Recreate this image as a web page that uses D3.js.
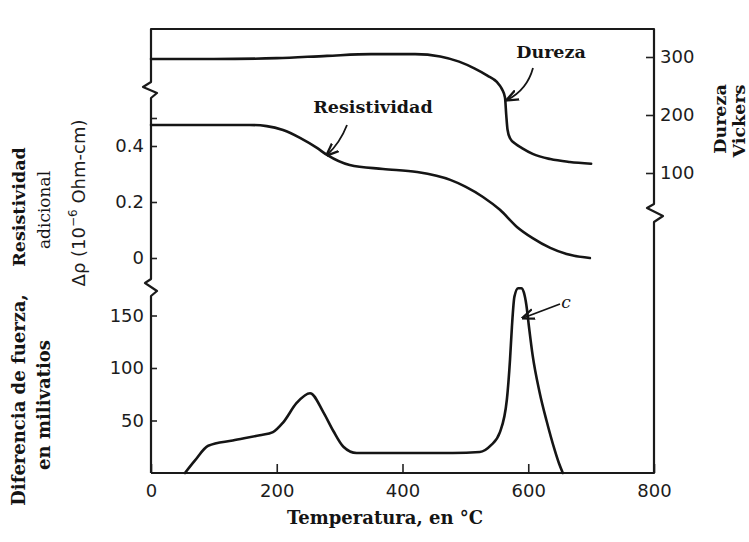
<!DOCTYPE html>
<html>
<head>
<meta charset="utf-8">
<script src="https://cdn.jsdelivr.net/npm/d3@7/dist/d3.min.js"></script>
<style>
  html, body { margin: 0; padding: 0; background: #fff; }
  svg { display: block; }
  .tick text { font-family: "DejaVu Sans", sans-serif; font-size: 18px; fill: #1c1c1c; }
  .title { font-family: "DejaVu Serif", serif; font-weight: bold; fill: #141414; }
</style>
</head>
<body>
<svg id="chart" width="749" height="542"></svg>
<script>
// Temperature axis
const tempTicks = [0, 200, 400, 600, 800];

// Vickers hardness (right axis, top panel)
const hardTemp = [0, 100, 200, 280, 350, 420, 460, 490, 515, 535, 550, 558, 563, 565, 567, 571, 580, 590, 607, 635, 666, 700];
const hardness = [296.5, 296.5, 298, 302, 305, 305, 301, 292, 280, 268, 257, 245, 230, 200, 175, 160, 150, 143, 133, 124, 119, 116];
const hardTicks = [100, 200, 300];

// Additional resistivity, 10^-6 ohm-cm (left axis, top panel)
const resTemp = [0, 100, 157, 184, 210, 237, 264, 280, 316, 369, 423, 476, 500, 528, 555, 582, 607, 635, 661, 698];
const resistivity = [0.475, 0.475, 0.475, 0.471, 0.457, 0.429, 0.393, 0.368, 0.332, 0.318, 0.307, 0.279, 0.255, 0.218, 0.172, 0.111, 0.071, 0.036, 0.014, 0.0];
const resTicks = [0, 0.2, 0.4];

// Power difference in millivatios (left axis, bottom panel), curve c
const diffTemp = [54, 70, 91, 130, 173, 194, 210, 232, 253, 274, 290, 306, 327, 400, 480, 523, 540, 555, 566, 571, 574, 578, 584, 589, 593, 597, 601, 607, 618, 629, 642, 649, 655];
const diffPower = [0, 12, 26, 31, 36, 39, 48, 67, 76, 58, 40, 25, 19, 19, 19, 20, 26, 39, 70, 108, 139, 168, 176, 176, 172, 160, 140, 112, 77, 50, 22, 9, 0];
const diffTicks = [50, 100, 150];

const svg = d3.select("#chart");

// Frame geometry
const fLeft = 151, fRight = 654, fTop = 29, fBottom = 473;

const x = d3.scaleLinear().domain([0, 800]).range([fLeft, fRight]);
const yHard = d3.scaleLinear().domain([100, 300]).range([173, 57]);
const yRes = d3.scaleLinear().domain([0, 0.4]).range([258, 146]);
const yDiff = d3.scaleLinear().domain([0, 150]).range([fBottom, 315.5]);

// Axes (ticks point inward; the frame is drawn separately with break marks)
const gx = svg.append("g").attr("transform", `translate(0,${fBottom})`)
  .call(d3.axisBottom(x).tickValues(tempTicks).tickSize(-9).tickPadding(11).tickFormat(d3.format("d")));
const gRes = svg.append("g").attr("transform", `translate(${fLeft},0)`)
  .call(d3.axisLeft(yRes).tickValues(resTicks.concat([0.5])).tickSize(-6).tickPadding(7)
    .tickFormat(d => d === 0 ? "0" : (d === 0.5 ? "" : d3.format(".1f")(d))));
const gDiff = svg.append("g").attr("transform", `translate(${fLeft},0)`)
  .call(d3.axisLeft(yDiff).tickValues(diffTicks).tickSize(-6).tickPadding(7).tickFormat(d3.format("d")));
const gHard = svg.append("g").attr("transform", `translate(${fRight},0)`)
  .call(d3.axisRight(yHard).tickValues(hardTicks).tickSize(-8).tickPadding(6).tickFormat(d3.format("d")));

[gx, gRes, gDiff, gHard].forEach(g => {
  g.select(".domain").remove();
  g.selectAll(".tick line").attr("stroke", "#222").attr("stroke-width", 1.6);
});

// Frame with axis-break zigzags on both vertical edges
svg.append("path")
  .attr("d",
    `M${fLeft},${fBottom} L${fLeft},296 L${fLeft + 6},291 L${fLeft - 6},283 L${fLeft},279 ` +
    `L${fLeft},98 L${fLeft + 6},93 L${fLeft - 8},87 L${fLeft},82 L${fLeft},${fTop} ` +
    `L${fRight},${fTop} L${fRight},204 L${fRight - 7},208 L${fRight + 9},216 L${fRight},222 ` +
    `L${fRight},${fBottom} L${fLeft},${fBottom}`)
  .attr("fill", "none").attr("stroke", "#1a1a1a").attr("stroke-width", 2.2).attr("stroke-linejoin", "round");

// Curves
const curveStyle = sel => sel.attr("fill", "none").attr("stroke", "#151515").attr("stroke-width", 2.6)
  .attr("stroke-linejoin", "round").attr("stroke-linecap", "round");

svg.append("path")
  .datum(d3.zip(hardTemp, hardness))
  .attr("d", d3.line().x(d => x(d[0])).y(d => yHard(d[1])).curve(d3.curveMonotoneX))
  .call(curveStyle);

svg.append("path")
  .datum(d3.zip(resTemp, resistivity))
  .attr("d", d3.line().x(d => x(d[0])).y(d => yRes(d[1])).curve(d3.curveMonotoneX))
  .call(curveStyle);

svg.append("path")
  .datum(d3.zip(diffTemp, diffPower))
  .attr("d", d3.line().x(d => x(d[0])).y(d => yDiff(d[1])).curve(d3.curveMonotoneX))
  .call(curveStyle);

// Arrowhead marker for the curve labels
svg.append("defs").append("marker")
  .attr("id", "arrow").attr("viewBox", "0 0 10 10").attr("refX", 9).attr("refY", 5)
  .attr("markerWidth", 7).attr("markerHeight", 7).attr("orient", "auto-start-reverse")
  .append("path").attr("d", "M0,1 L10,5 L0,9").attr("fill", "none").attr("stroke", "#151515").attr("stroke-width", 1.8);

const annoStyle = sel => sel.attr("fill", "none").attr("stroke", "#151515").attr("stroke-width", 1.8)
  .attr("marker-end", "url(#arrow)");

svg.append("path").attr("d", "M533,68 Q527,90 507,100").call(annoStyle);
svg.append("path").attr("d", "M347,125 Q340,143 327,155").call(annoStyle);
svg.append("path").attr("d", "M560,304 L523,318").call(annoStyle);

// Curve labels
svg.append("text").attr("class", "title").attr("x", 551).attr("y", 58).attr("text-anchor", "middle")
  .attr("font-size", 17.5).text("Dureza");
svg.append("text").attr("class", "title").attr("x", 373).attr("y", 113).attr("text-anchor", "middle")
  .attr("font-size", 17.5).text("Resistividad");
svg.append("text").attr("x", 566).attr("y", 308).attr("text-anchor", "middle")
  .attr("font-family", "DejaVu Serif, serif").attr("font-style", "italic").attr("font-size", 17).attr("fill", "#151515").text("c");

// Axis titles
svg.append("text").attr("class", "title").attr("x", 385).attr("y", 524).attr("text-anchor", "middle")
  .attr("font-size", 18).text("Temperatura, en °C");

function vtext(cx, cy, txt, size, cls, extra) {
  const t = svg.append("text").attr("transform", `translate(${cx},${cy}) rotate(-90)`)
    .attr("text-anchor", "middle").attr("dominant-baseline", "middle").attr("font-size", size);
  if (cls) t.attr("class", cls);
  if (extra) extra(t); else t.text(txt);
  return t;
}
vtext(20, 207, "Resistividad", 17.5, "title");
vtext(45, 210, "adicional", 17, "title").style("font-weight", "normal");
vtext(80, 203, null, 18, null, t => {
  t.attr("font-family", "DejaVu Sans, sans-serif").attr("fill", "#1c1c1c");
  t.append("tspan").text("Δρ (10");
  t.append("tspan").attr("font-size", 12).attr("dy", -7).text("−6");
  t.append("tspan").attr("dy", 7).text(" Ohm-cm)");
});
vtext(20, 400, "Diferencia de fuerza,", 18, "title");
vtext(45, 405, "en  milivatios", 18, "title");
vtext(721, 119, "Dureza", 17.5, "title");
vtext(740, 121, "Vickers", 17.5, "title");
</script>
</body>
</html>
